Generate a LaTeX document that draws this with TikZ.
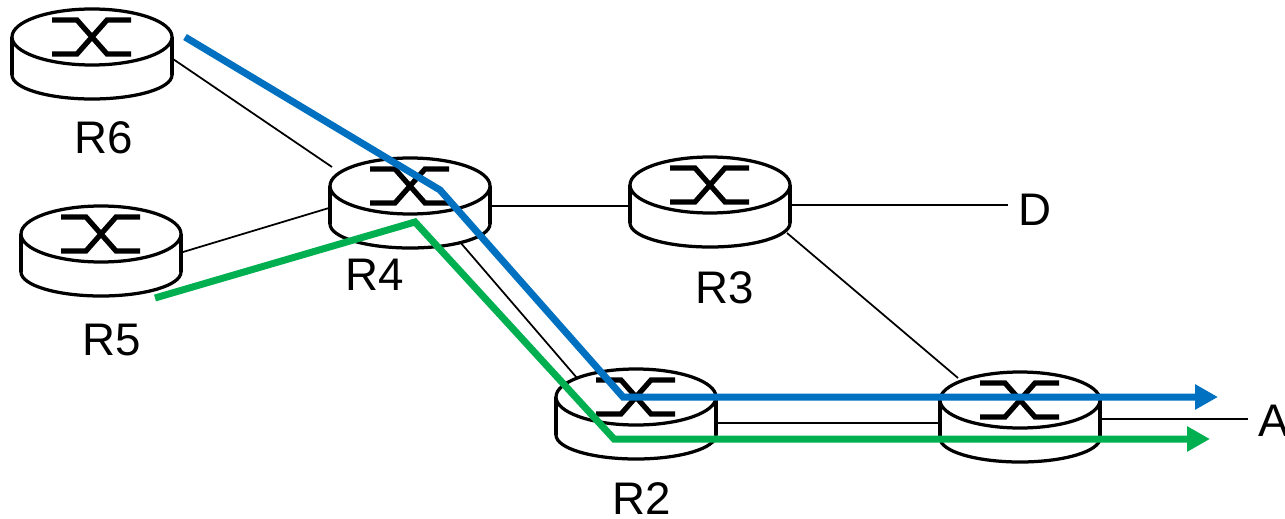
\documentclass[tikz,border=0pt]{standalone}
\usepackage{fontspec}
\setmainfont{Liberation Sans}
\usetikzlibrary{calc,arrows.meta}
\definecolor{pathblue}{RGB}{0,112,192}
\definecolor{pathgreen}{RGB}{0,176,80}
\def\Router#1#2#3{%
 \coordinate (#1) at (#2,#3);
 \begin{scope}[shift={(#1)}]
   \filldraw[router body] (0,38) ellipse [x radius=80, y radius=24];
   \fill[white] (-80,0) rectangle (80,38);
   \draw[router body] (-80,0) -- (-80,38) (80,0) -- (80,38);
   \filldraw[router body] (0,0) ellipse [x radius=80, y radius=28];
   \draw[router cross] (-40,-17) -- (-15,-17) -- (15,17) -- (39,17);
   \draw[router cross] (39,-17) -- (15,-17) -- (-15,17) -- (-40,17);
 \end{scope}
}
\begin{document}
\begin{tikzpicture}[x=0.2mm, y=-0.2mm,
  router body/.style={draw=black, fill=white, line width=0.65mm},
  router cross/.style={line width=1.05mm},
  link/.style={draw=black, line width=0.35mm},
  router label/.style={font=\fontsize{26}{30}\selectfont, inner sep=1pt},
  end label/.style={router label, inner xsep=2mm},
  route/.style={line width=1.4mm, -{Triangle[length=4.6mm, width=4.8mm]}}]
\useasboundingbox (0,0) rectangle (1285,519);
\coordinate (R6) at (92,37);
\coordinate (R5) at (101,234);
\coordinate (R4) at (410,186);
\coordinate (R3) at (710,185);
\coordinate (R2) at (636,397);
\coordinate (R1) at (1020,400);
\node[end label, anchor=west] (D) at (1008,210) {D};
\node[end label, anchor=west] (A) at (1248,421) {A};
% links
\draw[link] ($(R6)+(81,22)$) -- ($(R4)+(-78,-19)$);
\draw[link] ($(R5)+(82,18)$) -- ($(R4)+(-81,22)$);
\draw[link] ($(R4)+(81,20)$) -- ($(R3)+(-82,21)$);
\draw[link] ($(R3)+(82,20)$) coordinate (d link) -- (d link -| D.west);
\draw[link] ($(R3)+(77,48)$) -- ($(R1)+(-62,-22)$);
\draw[link] ($(R4)+(50,56)$) -- ($(R2)+(-59,-19)$);
\draw[link] ($(R2)+(80,26)$) -- ($(R1)+(-80,23)$);
\draw[link] ($(R1)+(80,19)$) coordinate (a link) -- (a link -| A.west);
\Router{R6}{92}{37}
\Router{R5}{101}{234}
\Router{R4}{410}{186}
\Router{R3}{710}{185}
\Router{R2}{636}{397}
\Router{R1}{1020}{400}
\node[router label] (R6 label) at (104,138) {R6};
\node[router label] (R5 label) at (112,340) {R5};
\node[router label] (R4 label) at (375,275) {R4};
\node[router label] (R3 label) at (725,288) {R3};
\node[router label] (R2 label) at (642,499) {R2};
\coordinate (blue end) at (1218,397);
\coordinate (green end) at (1210,439);
\draw[route, pathblue] ($(R6)+(93,0)$) -- ($(R4)+(30,4)$) -- ($(R2)+(-13,0)$) -- (blue end);
\draw[route, pathgreen] ($(R5)+(54,64)$) -- ($(R4)+(5,36)$) -- ($(R2)+(-22,42)$) -- (green end);
\end{tikzpicture}
\end{document}
